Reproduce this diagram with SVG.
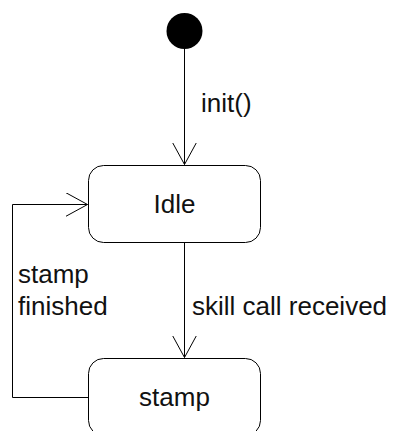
<svg xmlns="http://www.w3.org/2000/svg" width="398" height="431" viewBox="0 0 398 431">
  <style>
    .state { fill: #ffffff; stroke: #000000; stroke-width: 1; }
    .edge { fill: none; stroke: #000000; stroke-width: 1; }
    .label { font-family: "Liberation Sans", Arial, sans-serif; font-size: 26px; fill: #111111; }
  </style>
  <defs>
    <marker id="open-arrow" markerUnits="userSpaceOnUse" markerWidth="30" markerHeight="30" refX="22" refY="12" orient="auto">
      <path d="M0,0 L22,12 L0,24" fill="none" stroke="#000000" stroke-width="1"/>
    </marker>
  </defs>
  <rect width="398" height="431" fill="#ffffff"/>

  <g id="connectors">
    <path class="edge" d="M184.5,49 L184.5,164.5" marker-end="url(#open-arrow)"/>
    <path class="edge" d="M184.5,242 L184.5,357.5" marker-end="url(#open-arrow)"/>
    <path class="edge" d="M88,397.5 L12.5,397.5 L12.5,204.5 L87.5,204.5" marker-end="url(#open-arrow)"/>
    <text class="label" x="201" y="112">init()</text>
    <text class="label" x="192" y="315">skill call received</text>
    <text class="label" x="18" y="283">stamp</text>
    <text class="label" x="18" y="315">finished</text>
  </g>

  <g id="initial">
    <circle cx="184.5" cy="31" r="18" fill="#000000"/>
  </g>

  <g id="idle">
    <rect class="state" x="88.5" y="165.5" width="172" height="77" rx="15" ry="15"/>
    <text class="label" x="174.5" y="213" text-anchor="middle">Idle</text>
  </g>

  <g id="stamp">
    <rect class="state" x="88.5" y="358.5" width="172" height="77" rx="15" ry="15"/>
    <text class="label" x="174.5" y="406" text-anchor="middle">stamp</text>
  </g>
</svg>
